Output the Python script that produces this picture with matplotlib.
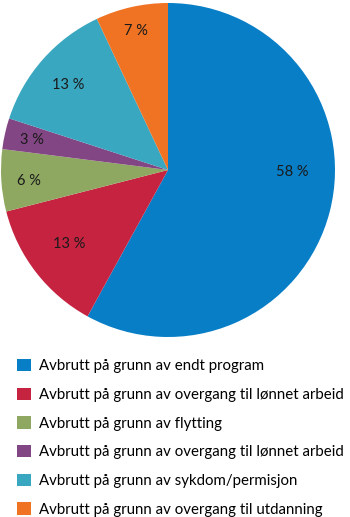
import matplotlib.pyplot as plt

plt.rcParams["font.family"] = ["Lato", "DejaVu Sans"]

shares = [58, 13, 6, 3, 13, 7]
labels = [
    "Avbrutt på grunn av endt program",
    "Avbrutt på grunn av overgang til lønnet arbeid",
    "Avbrutt på grunn av flytting",
    "Avbrutt på grunn av overgang til lønnet arbeid",
    "Avbrutt på grunn av sykdom/permisjon",
    "Avbrutt på grunn av overgang til utdanning",
]
colors = ["#087ec7", "#c62341", "#8fa861", "#834684", "#3aa7c0", "#f07324"]

# where each percentage text sits, in units of the pie radius
label_pos = [(0.745, -0.012), (-0.59, -0.443), (-0.835, -0.066),
             (-0.817, 0.18), (-0.596, 0.509), (-0.189, 0.832)]

fig = plt.figure(figsize=(3.5, 5.17), dpi=100)
ax = fig.add_axes([1 / 350, (517 - 337) / 517, 334 / 350, 334 / 517])

wedges, _ = ax.pie(shares, colors=colors, startangle=90, counterclock=False,
                   radius=1.0, wedgeprops=dict(linewidth=0))
ax.set_xlim(-1, 1)
ax.set_ylim(-1, 1)
ax.set_aspect("auto")
ax.axis("off")

for v, (x, y) in zip(shares, label_pos):
    ax.text(x, y, f"{v} %", ha="center", va="center", fontsize=10.5, color="#1a1a1a")

fig.legend(wedges, labels, loc="upper left", bbox_to_anchor=(17 / 350, 1 - 359 / 517),
           frameon=False, fontsize=10.8, handlelength=0.9, handleheight=0.9,
           handletextpad=0.55, labelspacing=0.95, borderaxespad=0, borderpad=0)

fig.savefig("out.png", dpi=100)
